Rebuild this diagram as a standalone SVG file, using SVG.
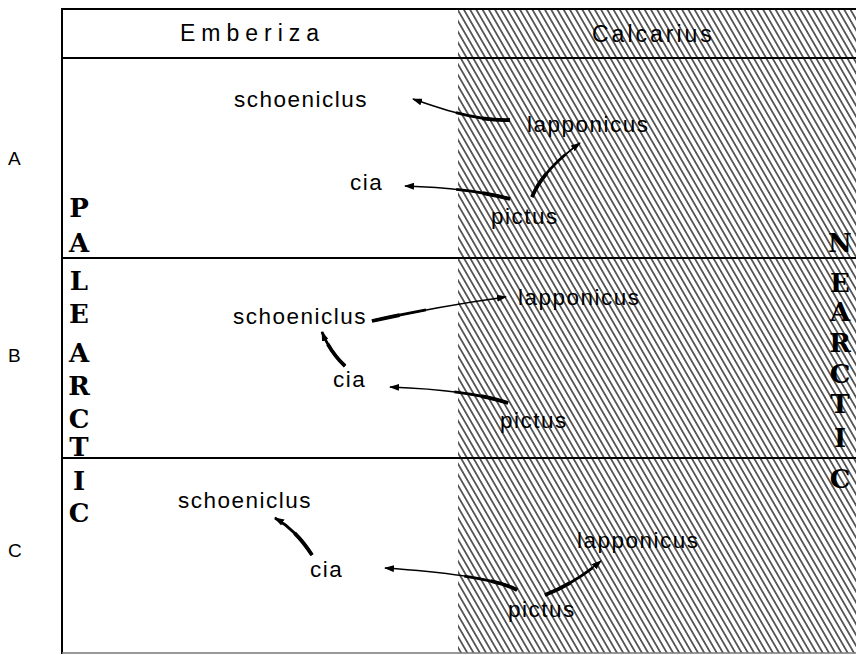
<svg xmlns="http://www.w3.org/2000/svg" width="856" height="655" viewBox="0 0 856 655">
<defs>
<pattern id="hatch" patternUnits="userSpaceOnUse" width="5.4" height="10" patternTransform="rotate(-30)">
<line x1="2.7" y1="-1" x2="2.7" y2="11" stroke="#000" stroke-width="1.2"/>
</pattern>
<marker id="ah" markerUnits="userSpaceOnUse" markerWidth="10" markerHeight="7" refX="9" refY="3.5" orient="auto">
<path d="M0,0 L10,3.5 L0,7 Z" fill="#000"/>
</marker>
<style>
.lbl{font-family:"Liberation Sans",Arial,sans-serif;font-size:22.5px;letter-spacing:1.5px;fill:#000}
.hdr{font-family:"Liberation Sans",Arial,sans-serif;font-size:23px;fill:#000}
.row{font-family:"Liberation Sans",Arial,sans-serif;font-size:19px;fill:#000}
.reg{font-family:"DejaVu Serif","Liberation Serif",serif;font-size:26px;font-weight:bold;fill:#000;text-anchor:middle}
.frame{stroke:#000;stroke-width:2;fill:none}
.c0{fill:none;stroke:#000;stroke-width:1.6}
.c1{fill:none;stroke:#000;stroke-width:2.8;stroke-dasharray:55 999}
.c2{fill:none;stroke:#000;stroke-width:3.8;stroke-dasharray:28 999}
</style>
</defs>
<rect width="856" height="655" fill="#fff"/>
<rect x="458" y="9" width="398" height="644" fill="url(#hatch)"/>
<g id="frame">
<line class="frame" x1="62" y1="9" x2="856" y2="9"/>
<line class="frame" x1="62" y1="8" x2="62" y2="654"/>
<line class="frame" x1="62" y1="58" x2="856" y2="58"/>
<line class="frame" x1="62" y1="258" x2="856" y2="258"/>
<line class="frame" x1="62" y1="458" x2="856" y2="458"/>
<line x1="62" y1="653" x2="856" y2="653" stroke="#777" stroke-width="1.5"/>
</g>
<g id="headers">
<text class="hdr" x="180" y="41" letter-spacing="6">Emberiza</text>
<text class="hdr" x="592" y="42" letter-spacing="3">Calcarius</text>
</g>
<g id="rowlabels">
<text class="row" x="8" y="165">A</text>
<text class="row" x="8" y="362">B</text>
<text class="row" x="8" y="557">C</text>
</g>
<g id="palearctic">
<text class="reg" x="79" y="217">P</text>
<text class="reg" x="79" y="252">A</text>
<text class="reg" x="79" y="290">L</text>
<text class="reg" x="79" y="323">E</text>
<text class="reg" x="79" y="362">A</text>
<text class="reg" x="79" y="395">R</text>
<text class="reg" x="79" y="428">C</text>
<text class="reg" x="79" y="456">T</text>
<text class="reg" x="79" y="490">I</text>
<text class="reg" x="79" y="522">C</text>
</g>
<g id="nearctic">
<text class="reg" x="840" y="252">N</text>
<text class="reg" x="840" y="292">E</text>
<text class="reg" x="840" y="321">A</text>
<text class="reg" x="840" y="352">R</text>
<text class="reg" x="840" y="383">C</text>
<text class="reg" x="840" y="413">T</text>
<text class="reg" x="840" y="447">I</text>
<text class="reg" x="840" y="488">C</text>
</g>
<g id="rowA">
<text id="A-schoeniclus" class="lbl" x="234" y="107">schoeniclus</text>
<text id="A-lapponicus" class="lbl" x="527" y="132">lapponicus</text>
<text id="A-cia" class="lbl" x="350" y="190">cia</text>
<text id="A-pictus" class="lbl" x="491" y="224">pictus</text>
</g>
<g id="rowB">
<text id="B-lapponicus" class="lbl" x="518" y="305">lapponicus</text>
<text id="B-schoeniclus" class="lbl" x="233" y="324">schoeniclus</text>
<text id="B-cia" class="lbl" x="333" y="387">cia</text>
<text id="B-pictus" class="lbl" x="500" y="428">pictus</text>
</g>
<g id="rowC">
<text id="C-schoeniclus" class="lbl" x="178" y="508">schoeniclus</text>
<text id="C-lapponicus" class="lbl" x="577" y="548">lapponicus</text>
<text id="C-cia" class="lbl" x="310" y="577">cia</text>
<text id="C-pictus" class="lbl" x="508" y="617">pictus</text>
</g>
<g id="connectors">
<path class="c0" marker-end="url(#ah)" d="M510,120 C480,121 450,112 413,99"/>
<path class="c1" d="M510,120 C480,121 450,112 413,99"/>
<path class="c2" d="M510,120 C480,121 450,112 413,99"/>
<path class="c0" marker-end="url(#ah)" d="M510,199 Q470,188 405,186"/>
<path class="c1" d="M510,199 Q470,188 405,186"/>
<path class="c2" d="M510,199 Q470,188 405,186"/>
<path class="c0" marker-end="url(#ah)" d="M532,197 Q543,170 580,143"/>
<path class="c1" d="M532,197 Q543,170 580,143"/>
<path class="c2" d="M532,197 Q543,170 580,143"/>
<path class="c0" marker-end="url(#ah)" d="M372,321 Q440,306 506,297"/>
<path class="c1" d="M372,321 Q440,306 506,297"/>
<path class="c2" d="M372,321 Q440,306 506,297"/>
<path class="c0" marker-end="url(#ah)" d="M345,366 Q330,352 322,332"/>
<path class="c1" d="M345,366 Q330,352 322,332"/>
<path class="c2" d="M345,366 Q330,352 322,332"/>
<path class="c0" marker-end="url(#ah)" d="M508,403 Q470,390 390,387"/>
<path class="c1" d="M508,403 Q470,390 390,387"/>
<path class="c2" d="M508,403 Q470,390 390,387"/>
<path class="c0" marker-end="url(#ah)" d="M312,555 Q296,530 275,518"/>
<path class="c1" d="M312,555 Q296,530 275,518"/>
<path class="c2" d="M312,555 Q296,530 275,518"/>
<path class="c0" marker-end="url(#ah)" d="M517,590 Q490,575 385,568"/>
<path class="c1" d="M517,590 Q490,575 385,568"/>
<path class="c2" d="M517,590 Q490,575 385,568"/>
<path class="c0" marker-end="url(#ah)" d="M545,595 Q575,583 601,561"/>
<path class="c1" d="M545,595 Q575,583 601,561"/>
<path class="c2" d="M545,595 Q575,583 601,561"/>
</g>
</svg>
